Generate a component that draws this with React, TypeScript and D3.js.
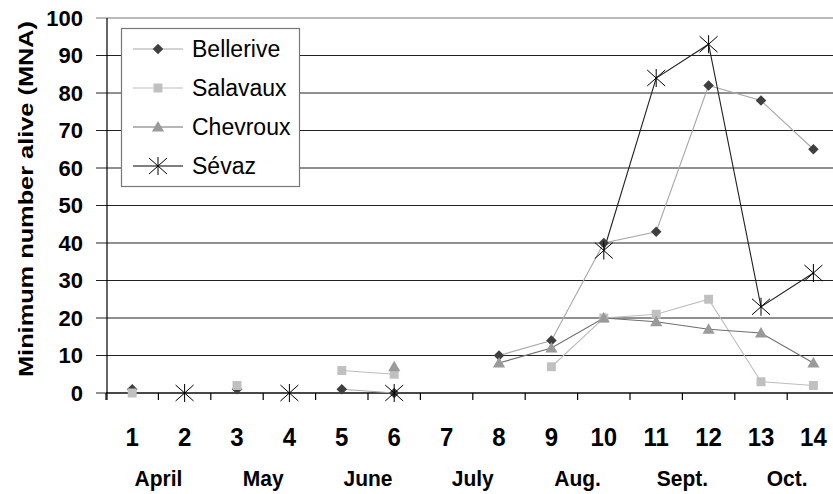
import * as d3 from "d3";

// ---- data ----
const categories = ["1", "2", "3", "4", "5", "6", "7", "8", "9", "10", "11", "12", "13", "14"];
const months = ["April", "May", "June", "July", "Aug.", "Sept.", "Oct."];

const bellerive = [1, null, 1, null, 1, 0, null, 10, 14, 40, 43, 82, 78, 65];
const salavaux = [0, null, 2, null, 6, 5, null, null, 7, 20, 21, 25, 3, 2];
const chevroux = [null, null, null, null, null, 7, null, 8, 12, 20, 19, 17, 16, 8];
const sevaz = [null, 0, null, 0, null, 0, null, null, null, 38, 84, 93, 23, 32];

type Marker = "diamond" | "square" | "triangle" | "star";
type Series = {
  name: string;
  values: (number | null)[];
  marker: Marker;
  markerFill: string;
  lineColor: string;
};

const series: Series[] = [
  { name: "Bellerive", values: bellerive, marker: "diamond", markerFill: "#3f3f3f", lineColor: "#a8a8a8" },
  { name: "Salavaux", values: salavaux, marker: "square", markerFill: "#c0c0c0", lineColor: "#bdbdbd" },
  { name: "Chevroux", values: chevroux, marker: "triangle", markerFill: "#9a9a9a", lineColor: "#6e6e6e" },
  { name: "Sévaz", values: sevaz, marker: "star", markerFill: "none", lineColor: "#222" },
];

const W = 833;
const H = 494;
const plotLeft = 106;
const step = 52.4;
const font = "'Liberation Sans', Arial, sans-serif";

const x = d3
  .scaleBand<string>()
  .domain(categories)
  .range([plotLeft, plotLeft + step * categories.length]);
const y = d3.scaleLinear().domain([0, 100]).range([393, 18]);
const cx = (c: string) => (x(c) ?? 0) + x.bandwidth() / 2;

const diamondPath = d3.symbol().type(d3.symbolSquare).size(56)() as string;
const squarePath = d3.symbol().type(d3.symbolSquare).size(80)() as string;
const trianglePath = d3.symbol().type(d3.symbolTriangle).size(64)() as string;
const starPath = "M0,-9V9M-9,-8L9,8M-9,8L9,-8";

const MarkerShape = ({ m, fill, px, py }: { m: Marker; fill: string; px: number; py: number }) => {
  if (m === "diamond")
    return <path d={diamondPath} fill={fill} transform={`translate(${px},${py}) rotate(45)`} />;
  if (m === "square") return <path d={squarePath} fill={fill} transform={`translate(${px},${py})`} />;
  if (m === "triangle") return <path d={trianglePath} fill={fill} transform={`translate(${px},${py + 1})`} />;
  return <path d={starPath} fill="none" stroke="#000" strokeWidth={1} transform={`translate(${px},${py})`} />;
};

const App = () => {
  const line = d3
    .line<number | null>()
    .defined((d) => d != null)
    .x((_, i) => cx(categories[i]))
    .y((d) => y(d as number));

  const yTicks = y.ticks(10);
  const xEnd = plotLeft + step * categories.length;

  return (
    <svg
      width={W}
      height={H}
      style={{ position: "absolute", left: 0, top: 0, background: "#fff" }}
      fontFamily={font}
    >
      {/* grid lines */}
      {yTicks.map((t) => (
        <g key={t}>
          <line x1={plotLeft - 10} x2={xEnd} y1={y(t)} y2={y(t)} stroke={t === 100 ? "#777" : "#222"} strokeWidth={1.2} />
          <text x={83} y={y(t)} dy="0.36em" textAnchor="end" fontSize={22} fontWeight="bold">
            {t}
          </text>
        </g>
      ))}

      {/* axes */}
      <line x1={plotLeft + 1} x2={plotLeft + 1} y1={y(100)} y2={y(0) + 7} stroke="#000" strokeWidth={1.2} />
      <line x1={plotLeft} x2={xEnd} y1={y(0)} y2={y(0)} stroke="#000" strokeWidth={1.2} />
      {categories.map((c) => (
        <line key={c} x1={x(c)} x2={x(c)} y1={y(0)} y2={y(0) + 7} stroke="#000" strokeWidth={1.2} />
      ))}

      {/* category numbers and months */}
      {categories.map((c) => (
        <text
          key={c}
          x={cx(c)}
          y={446}
          textAnchor="middle"
          fontSize={24}
          fontWeight="bold"
          transform={`translate(0,${-446 * 0.08}) scale(1,1.08)`}
        >
          {c}
        </text>
      ))}
      {months.map((m, i) => (
        <text
          key={m}
          x={x(categories[2 * i + 1])}
          y={486}
          textAnchor="middle"
          fontSize={21}
          fontWeight="bold"
          transform={`translate(0,${-486 * 0.08}) scale(1,1.08)`}
        >
          {m}
        </text>
      ))}

      {/* y title */}
      <text
        transform={`translate(33,199) rotate(-90)`}
        textAnchor="middle"
        fontSize={21}
        fontWeight="bold"
        textLength={356}
        lengthAdjust="spacingAndGlyphs"
      >
        Minimum number alive (MNA)
      </text>

      {/* series */}
      {series.map((s) => (
        <path key={s.name} d={line(s.values) ?? ""} fill="none" stroke={s.lineColor} strokeWidth={1.1} />
      ))}
      {series.map((s) =>
        s.values.map((v, i) =>
          v == null ? null : (
            <MarkerShape key={s.name + i} m={s.marker} fill={s.markerFill} px={cx(categories[i])} py={y(v)} />
          )
        )
      )}

      {/* legend */}
      <rect x={121.5} y={28.5} width={178} height={158} fill="#fff" stroke="#777" strokeWidth={1.2} />
      {series.map((s, i) => {
        const ly = 49 + i * 39;
        return (
          <g key={s.name}>
            <line x1={133} x2={183} y1={ly} y2={ly} stroke={i === 3 ? "#000" : s.lineColor} strokeWidth={1.1} />
            <MarkerShape m={s.marker} fill={s.markerFill} px={158} py={ly} />
            <text x={192} y={ly} dy="0.36em" fontSize={23}>
              {s.name}
            </text>
          </g>
        );
      })}
    </svg>
  );
};

export default App;
